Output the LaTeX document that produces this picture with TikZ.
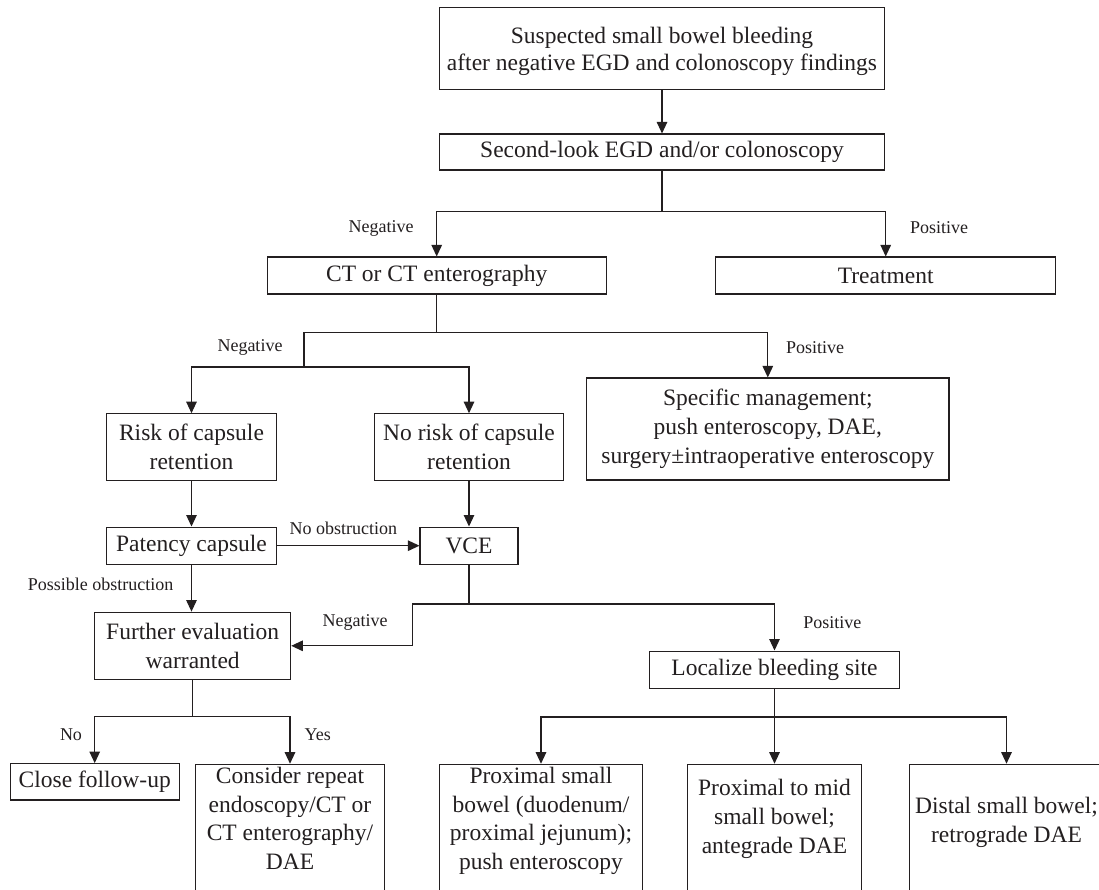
\documentclass[tikz,border=0pt]{standalone}
\usepackage{fontspec}
\setmainfont{Liberation Serif}
\usetikzlibrary{arrows.meta}
\definecolor{ink}{RGB}{35,31,32}
\newcommand\uptext[2]{\raisebox{#1}[\height][\depth]{\begin{tabular}{@{}c@{}}#2\end{tabular}}}
\begin{document}
\begin{tikzpicture}[x=1pt,y=-1pt,
  box/.style={draw=ink, line width=1.1pt, rectangle, inner sep=0pt, align=center,
    font=\fontsize{23.5}{28.8}\selectfont, text=ink},
  lab/.style={font=\fontsize{18}{21}\selectfont, text=ink, inner sep=0pt},
  ln/.style={draw=ink, line width=1.1pt},
  arr/.style={draw=ink, line width=1.1pt, -{Triangle[length=11.5pt,width=10.5pt]}}]
\useasboundingbox (0,0) rectangle (1099,889);
\clip (0,0) rectangle (1099,889);
\fill[white] (0,0) rectangle (1099,889);

% boxes
\node[box, minimum width=445pt, minimum height=82pt,
      font=\fontsize{23.5}{27}\selectfont] (top) at (662,48.3)
  {\uptext{-3pt}{Suspected small bowel bleeding\\after negative EGD and colonoscopy findings}};
\node[box, minimum width=445pt, minimum height=36pt] (second) at (662,152)
  {Second-look EGD and/or colonoscopy};
\node[box, minimum width=339.3pt, minimum height=37pt] (ct) at (436.7,275.5)
  {CT or CT enterography};
\node[box, minimum width=340pt, minimum height=37pt] (treat) at (885.7,275.5)
  {Treatment};
\node[box, minimum width=169.6pt, minimum height=66.3pt] (risk) at (191.5,446.9)
  {Risk of capsule\\retention};
\node[box, minimum width=188.3pt, minimum height=66.3pt] (norisk) at (469,446.9)
  {No risk of capsule\\retention};
\node[box, minimum width=362.3pt, minimum height=102pt] (spec) at (767.8,429)
  {Specific management;\\push enteroscopy, DAE,\\surgery\textpm intraoperative enteroscopy};
\node[box, minimum width=169.6pt, minimum height=37.3pt] (pat) at (191.5,545.7)
  {Patency capsule};
\node[box, minimum width=98pt, minimum height=37.3pt] (vce) at (469,545.7)
  {VCE};
\node[box, minimum width=196pt, minimum height=67.3pt] (fur) at (192.7,645.8)
  {Further evaluation\\warranted};
\node[box, minimum width=249.3pt, minimum height=37.3pt] (loc) at (774.5,669.7)
  {Localize bleeding site};
\node[box, minimum width=169.3pt, minimum height=36.3pt] (close) at (94.7,781.8)
  {Close follow-up};
\node[box, anchor=north, minimum width=188.6pt, minimum height=140pt] (cons) at (290,763.7)
  {\uptext{13.5pt}{Consider repeat\\endoscopy/CT or\\CT enterography/\\DAE}};
\node[box, anchor=north, minimum width=203.4pt, minimum height=140pt] (prox) at (541,763.7)
  {\uptext{13.5pt}{Proximal small\\bowel (duodenum/\\proximal jejunum);\\push enteroscopy}};
\node[box, anchor=north, minimum width=173.7pt, minimum height=140pt] (mid) at (774.5,763.7)
  {\uptext{15.5pt}{Proximal to mid\\small bowel;\\antegrade DAE}};
\node[box, anchor=north, minimum width=194pt, minimum height=140pt] (dist) at (1006.5,763.7)
  {\uptext{12pt}{Distal small bowel;\\retrograde DAE}};

% junctions
\coordinate (j1) at (662,211.7);
\coordinate (j2) at (436.7,332.3);
\coordinate (j4) at (304,367);
\coordinate (j5) at (469,604);
\coordinate (j6) at (412.7,604);
\coordinate (j7) at (192.7,716.7);
\coordinate (j8) at (774.5,717);

% connectors
\draw[arr] (top) -- (second);
\draw[ln] (second) -- (j1);
\draw[arr] (j1) -| (ct);
\draw[arr] (j1) -| (treat);
\draw[ln] (ct) -- (j2);
\draw[arr] (j2) -| (spec);
\draw[ln] (j2) -| (j4);
\draw[arr] (j4) -| (risk);
\draw[arr] (j4) -| (norisk);
\draw[arr] (risk) -- (pat);
\draw[arr] (norisk) -- (vce);
\draw[arr] (pat) -- (vce);
\draw[arr] (pat.south) -- (pat.south |- fur.north);
\draw[ln] (vce) -- (j5);
\draw[arr] (j5) -- (j6) |- (fur.east);
\draw[arr] (j5) -| (loc);
\draw[ln] (fur) -- (j7);
\draw[arr] (j7) -| (close);
\draw[arr] (j7) -| (cons);
\draw[ln] (loc) -- (j8);
\draw[arr] (j8) -| (prox);
\draw[arr] (j8) -- (mid);
\draw[arr] (j8) -| (dist);

% labels
\node[lab] (l1) at (381,228) {Negative};
\node[lab] (l2) at (939,228) {Positive};
\node[lab] (l3) at (250,347) {Negative};
\node[lab] (l4) at (815,348) {Positive};
\node[lab] (l5) at (343.3,528.3) {No obstruction};
\node[lab] (l6) at (100.7,584.3) {Possible obstruction};
\node[lab] (l7) at (355,622.7) {Negative};
\node[lab] (l8) at (832.3,622.7) {Positive};
\node[lab] (l9) at (71,734.3) {No};
\node[lab] (l10) at (317.7,734.3) {Yes};
\end{tikzpicture}
\end{document}
